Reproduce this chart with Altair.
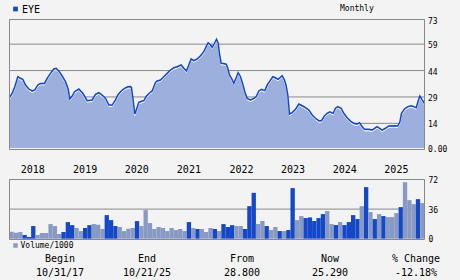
import altair as alt
import pandas as pd

# ---------------- data ----------------
ticker = "EYE"
period_label = "Monthly"

# months after 10/31/17 and closing price
price_month = [0, 0.62, 1.23, 1.93, 2.54, 3.08, 3.70, 4.47, 5.24, 5.86, 6.55, 7.17, 8.10, 8.71,
               9.48, 10.25, 10.80, 11.41, 12.18, 12.95, 13.57, 13.96, 14.50, 15.04, 16.04, 16.96,
               17.97, 19.12, 19.89, 20.66, 21.44, 22.21, 22.98, 23.75, 24.52, 25.06, 25.83, 26.6,
               27.37, 27.99, 28.22, 28.53, 28.99, 29.38, 29.92, 30.69, 31.07, 31.69, 32.46, 33.0,
               33.77, 34.16, 34.93, 35.7, 36.47, 37.24, 38.01, 38.78, 39.71, 40.32, 40.94, 41.48,
               42.02, 42.63, 43.4, 44.18, 44.95, 45.5, 45.96, 46.5, 46.88, 47.42, 47.88, 48.27,
               48.57, 48.96, 49.57, 50.12, 50.5, 50.88, 51.35, 51.89, 52.43, 52.89, 53.43, 53.97,
               54.43, 54.97, 55.74, 56.51, 57.05, 57.67, 58.29, 59.06, 59.61, 60.14, 60.91, 61.53,
               62.14, 62.68, 63.07, 63.61, 64.0, 64.38, 64.77, 65.39, 66.16, 66.92, 67.71, 68.47,
               69.24, 70.02, 70.78, 71.55, 72.17, 72.8, 73.48, 74.1, 74.87, 75.41, 75.94, 76.72,
               77.33, 78.1, 78.88, 79.64, 80.42, 80.96, 81.58, 82.11, 83.11, 83.88, 84.42, 85.04,
               85.64, 86.18, 86.95, 87.72, 88.9, 89.82, 90.28, 90.68, 91.37, 92.14, 92.92, 93.53,
               94.08, 94.54, 94.93, 95.47, 96.0]
price_value = [28.6, 31.1, 34.8, 40.5, 39.6, 39.0, 35.8, 33.5, 32.4, 33.0, 35.8, 36.7, 36.7, 39.6,
               42.4, 44.9, 45.3, 43.8, 40.9, 37.7, 33.5, 27.8, 29.5, 32.0, 33.5, 31.1,
               26.9, 27.3, 30.5, 31.4, 30.1, 28.2, 24.4, 24.4, 27.3, 30.1, 32.4, 33.9,
               34.8, 34.9, 34.3, 28.6, 19.3, 22.0, 26.0, 26.7, 26.9, 29.5, 31.4, 32.4,
               37.3, 38.1, 38.6, 40.5, 42.4, 44.3, 45.6, 46.2, 47.2, 45.3, 43.8, 47.2,
               50.6, 49.6, 50.6, 52.4, 54.7, 57.6, 59.8, 58.5, 57.2, 59.5, 61.8, 59.5,
               53.8, 48.1, 48.0, 47.6, 45.3, 41.5, 39.6, 36.7, 39.9, 42.8, 40.5, 36.2,
               32.0, 28.2, 27.3, 28.2, 29.1, 32.4, 33.3, 32.6, 35.8, 37.7, 40.5, 39.9,
               39.0, 40.2, 41.1, 38.6, 35.4, 30.1, 19.3, 20.1, 22.0, 25.0, 24.0, 22.9,
               21.6, 18.8, 16.9, 15.5, 15.5, 18.0, 19.7, 20.6, 19.7, 22.6, 23.5, 22.6,
               19.7, 17.2, 15.3, 14.0, 13.6, 14.4, 12.1, 10.6, 10.6, 10.2, 11.2, 12.1,
               11.2, 10.2, 11.2, 12.5, 12.7, 12.5, 14.6, 19.7, 22.2, 23.5, 24.0, 23.5,
               22.9, 26.7, 29.5, 27.3, 25.29]

# monthly volume (thousands) and whether the bar is the dark (1) or light (0) kind
volume_k = [8.5, 7.3, 8.1, 4.5, 2.1, 15.4, 4.5, 6.9, 6.9, 17.8, 15.4, 5.7,
            8.1, 20.2, 16.5, 13.0, 9.3, 13.0, 16.5, 17.8, 17.0, 11.8, 28.7, 22.6,
            15.4, 14.2, 9.3, 12.2, 13.0, 21.4, 15.4, 34.8, 19.0, 11.8, 14.2, 13.0,
            9.3, 13.0, 10.5, 11.8, 9.3, 20.2, 13.0, 11.8, 11.8, 8.1, 13.0, 11.8,
            9.3, 17.8, 14.2, 16.5, 15.4, 15.4, 11.8, 39.6, 55.8, 17.8, 21.5, 15.4,
            10.5, 14.2, 9.3, 9.3, 10.5, 61.5, 22.6, 27.5, 25.1, 25.9, 21.5, 25.1,
            29.9, 33.6, 17.8, 16.6, 20.2, 16.6, 20.2, 28.7, 23.9, 39.6, 62.7, 32.4,
            23.9, 29.9, 27.5, 26.3, 26.3, 31.1, 38.4, 68.7, 46.9, 42.0, 48.1, 43.3]
volume_dark = [0, 0, 0, 1, 1, 1, 0, 0, 0, 0, 0, 0,
               1, 1, 1, 0, 0, 1, 1, 0, 0, 0, 1, 1,
               1, 0, 0, 0, 0, 1, 0, 0, 0, 0, 0, 0,
               0, 0, 0, 0, 0, 1, 0, 1, 0, 0, 0, 1,
               0, 1, 1, 1, 0, 0, 1, 1, 1, 0, 0, 1,
               0, 0, 1, 0, 1, 1, 0, 0, 1, 1, 1, 1,
               1, 0, 0, 1, 0, 1, 1, 1, 1, 0, 1, 0,
               1, 0, 1, 0, 0, 0, 1, 0, 0, 0, 1, 0]

price_ticks = [73, 59, 44, 29, 14, 0]
price_tick_text = ["73", "59", "44", "29", "14", "0.00"]
price_grid = [14, 29, 44, 59]
volume_ticks = [72, 36, 0]
volume_tick_text = ["72", "36", "0"]
volume_grid = [36]
years = [2018, 2019, 2020, 2021, 2022, 2023, 2024, 2025]
year_label_month = [5.4, 17.5, 29.45, 41.5, 53.65, 65.6, 77.55, 89.5]
footer_heads = ["Begin", "End", "From", "Now", "% Change"]
footer_values = ["10/31/17", "10/21/25", "28.800", "25.290", "-12.18%"]

# ---------------- styling / layout ----------------
BG = "#f3f3f3"
GRID = "#888888"
LINE = "#1448c8"
AREA = "#9dafdc"
DARK = "#1448c8"
LIGHT = "#8899c4"
MONO = "DejaVu Sans Mono"

X_DOMAIN = [0, 96]
X_RANGE = [9.5, 424.5]
P_DOMAIN = [0, 73]
P_RANGE = [148, 19.5]
V_DOMAIN = [0, 72]
V_RANGE = [238.7, 179.5]

xs = alt.Scale(domain=X_DOMAIN, range=X_RANGE, nice=False, zero=False)
ps = alt.Scale(domain=P_DOMAIN, range=P_RANGE, nice=False)
vs = alt.Scale(domain=V_DOMAIN, range=V_RANGE, nice=False)

price_df = pd.DataFrame({"m": price_month, "p": price_value})
vol_df = pd.DataFrame({"m0": list(range(96)), "m1": list(range(1, 97)),
                       "v": volume_k, "dark": volume_dark})
pgrid_df = pd.DataFrame({"y": price_grid, "x0": 0, "x1": 96})
vgrid_df = pd.DataFrame({"y": volume_grid, "x0": 0, "x1": 96})
ptick_df = pd.DataFrame({"y": price_ticks, "t": price_tick_text})
vtick_df = pd.DataFrame({"y": volume_ticks, "t": volume_tick_text})
year_df = pd.DataFrame({"m": year_label_month, "t": [str(y) for y in years]})
foot_df = pd.DataFrame({"h": footer_heads, "v": footer_values,
                        "cx": [60, 147, 242, 330, 416]})
one_df = pd.DataFrame({"k": [0]})

X = lambda f: alt.X(f, type="quantitative", scale=xs, axis=None)

# price panel
p_grid = alt.Chart(pgrid_df).mark_rule(color=GRID, strokeWidth=1).encode(
    x=X("x0"), x2="x1", y=alt.Y("y:Q", scale=ps, axis=None))
p_area = alt.Chart(price_df).mark_area(color=AREA, opacity=1).encode(
    x=X("m"), y=alt.Y("p:Q", scale=ps, axis=None))
p_white = alt.Chart(price_df).mark_line(color="white", strokeWidth=1, yOffset=1.5).encode(
    x=X("m"), y=alt.Y("p:Q", scale=ps, axis=None))
p_line = alt.Chart(price_df).mark_line(color=LINE, strokeWidth=1.5).encode(
    x=X("m"), y=alt.Y("p:Q", scale=ps, axis=None))
p_ticks = alt.Chart(ptick_df).mark_text(align="left", baseline="middle", font=MONO,
                                        fontSize=8, color="black", dy=2).encode(
    x=alt.value(428), y=alt.Y("y:Q", scale=ps, axis=None), text="t:N")
p_frame = alt.Chart(one_df).mark_rect(fillOpacity=0, stroke=GRID, strokeWidth=1).encode(
    x=alt.value(9.5), x2=alt.value(424.5), y=alt.value(19.5), y2=alt.value(149.5))
price_panel = alt.layer(p_grid, p_area, p_white, p_line, p_frame, p_ticks)

# volume panel
v_grid = alt.Chart(vgrid_df).mark_rule(color=GRID, strokeWidth=1).encode(
    x=X("x0"), x2="x1", y=alt.Y("y:Q", scale=vs, axis=None))
v_bars = alt.Chart(vol_df).mark_rect().encode(
    x=X("m0"), x2="m1", y=alt.Y("v:Q", scale=vs, axis=None), y2=alt.datum(0),
    color=alt.Color("dark:N", scale=alt.Scale(domain=[1, 0], range=[DARK, LIGHT]), legend=None))
v_ticks = alt.Chart(vtick_df).mark_text(align="left", baseline="middle", font=MONO,
                                        fontSize=8, color="black", dy=1.5).encode(
    x=alt.value(428.5), y=alt.Y("y:Q", scale=vs, axis=None), text="t:N")
v_frame = alt.Chart(one_df).mark_rect(fillOpacity=0, stroke=GRID, strokeWidth=1).encode(
    x=alt.value(9.5), x2=alt.value(424.5), y=alt.value(179.5), y2=alt.value(239.5))
volume_panel = alt.layer(v_grid, v_bars, v_frame, v_ticks)

# texts
years_txt = alt.Chart(year_df).mark_text(font=MONO, fontSize=10, color="black",
                                         baseline="middle").encode(
    x=X("m"), y=alt.value(170), text="t:N")
title_sq = alt.Chart(one_df).mark_square(color=DARK, size=22, opacity=1).encode(
    x=alt.value(15.5), y=alt.value(9))
title_txt = alt.Chart(one_df).mark_text(font=MONO, fontSize=10, align="left",
                                        baseline="middle", color="black").encode(
    x=alt.value(22), y=alt.value(9.5), text=alt.value(ticker))
period_txt = alt.Chart(one_df).mark_text(font=MONO, fontSize=8, align="left",
                                         baseline="middle", color="black").encode(
    x=alt.value(340), y=alt.value(9), text=alt.value(period_label))
vol_sq = alt.Chart(one_df).mark_square(color=LIGHT, size=20, opacity=1).encode(
    x=alt.value(15.5), y=alt.value(245.5))
vol_txt = alt.Chart(one_df).mark_text(font=MONO, fontSize=8, align="left",
                                      baseline="middle", color="black").encode(
    x=alt.value(20.5), y=alt.value(245.5), text=alt.value("Volume/1000"))
foot_h = alt.Chart(foot_df).mark_text(font=MONO, fontSize=10, baseline="middle",
                                      color="black").encode(
    x=alt.X("cx:Q", scale=None, axis=None), y=alt.value(259), text="h:N")
foot_v = alt.Chart(foot_df).mark_text(font=MONO, fontSize=10, baseline="middle",
                                      color="black").encode(
    x=alt.X("cx:Q", scale=None, axis=None), y=alt.value(273), text="v:N")

chart = alt.layer(
    price_panel, volume_panel,
    alt.layer(years_txt, title_sq, title_txt, period_txt, vol_sq, vol_txt, foot_h, foot_v)
).resolve_scale(y="independent").properties(
    width=460, height=280, padding=0, autosize="none", background=BG
).configure_view(stroke=None)

chart.save("out.html", embed_options={"renderer": "svg", "actions": False})
